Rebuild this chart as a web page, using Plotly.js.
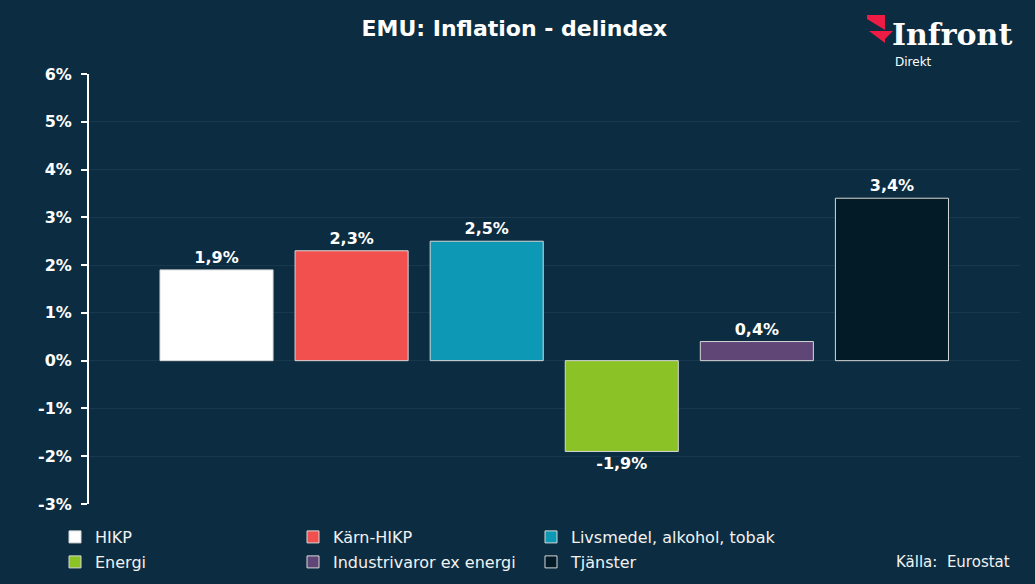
<!DOCTYPE html>
<html>
<head>
<meta charset="utf-8">
<script src="https://cdn.plot.ly/plotly-3.0.1.min.js"></script>
<style>html,body{margin:0;padding:0;background:#0c2d41;}#chart{width:1035px;height:584px;}</style>
</head>
<body>
<div id="chart"></div>
<script>
// ---- data ----
const categories = ["HIKP", "Kärn-HIKP", "Livsmedel, alkohol, tobak", "Energi", "Industrivaror ex energi", "Tjänster"];
const values = [1.9, 2.3, 2.5, -1.9, 0.4, 3.4];
const colors = ["#ffffff", "#f24f4f", "#0d98b6", "#8bc326", "#5f4677", "#021b27"];
const tickVals = [-3, -2, -1, 0, 1, 2, 3, 4, 5, 6];
const tickText = ["-3%", "-2%", "-1%", "0%", "1%", "2%", "3%", "4%", "5%", "6%"];
const legendRow = [1, 1, 1, 2, 2, 2];

const fmt = v => v.toFixed(1).replace('.', ',') + '%';

// ---- geometry helpers (pixel -> paper) ----
const ML = 89, MR = 15, MT = 74, MB = 80, W = 1035, H = 584;
const PW = W - ML - MR, PH = H - MT - MB;
const px = X => (X - ML) / PW;
const py = Y => (H - MB - Y) / PH;

const FONT = "DejaVu Sans, Verdana, sans-serif";

const traces = categories.map((c, i) => ({
  type: 'bar',
  name: c,
  x: [c],
  y: [values[i]],
  width: 0.837,
  marker: { color: colors[i], line: { color: '#d8d8d8', width: 1 } },
  text: [fmt(values[i])],
  textposition: 'outside',
  textfont: { family: FONT, size: 16, color: '#ffffff', weight: 'bold' },
  cliponaxis: false,
  hoverinfo: 'skip',
  legend: legendRow[i] === 1 ? 'legend' : 'legend2',
  legendwidth: (i % 3 === 2) ? 260 : 193
}));

const legendCommon = {
  orientation: 'h',
  xanchor: 'left',
  yanchor: 'middle',
  bgcolor: 'rgba(0,0,0,0)',
  borderwidth: 0,
  font: { family: FONT, size: 16, color: '#f2f2f2' },
  entrywidth: 193,
  entrywidthmode: 'pixels',
  itemwidth: 30,
  traceorder: 'normal'
};

function poly(pts) {
  return {
    type: 'path', xref: 'paper', yref: 'paper',
    path: 'M' + pts.map(p => px(p[0]) + ',' + py(p[1])).join('L') + 'Z',
    fillcolor: '#ee1c45', line: { width: 0 }
  };
}

const layout = {
  width: W, height: H,
  paper_bgcolor: '#0c2d41',
  plot_bgcolor: '#0c2d41',
  margin: { l: ML, r: MR, t: MT, b: MB, autoexpand: false },
  barmode: 'overlay',
  showlegend: true,
  title: {
    text: 'EMU: Inflation - delindex',
    font: { family: FONT, size: 22, color: '#ffffff', weight: 'bold' },
    x: 0.497, xanchor: 'center', y: 1 - 28 / H, yanchor: 'middle'
  },
  xaxis: {
    type: 'category',
    range: [-0.944, 5.948],
    showticklabels: false,
    showgrid: false,
    zeroline: false,
    showline: false,
    ticks: ''
  },
  yaxis: {
    range: [-3, 6],
    tickvals: tickVals,
    ticktext: tickText,
    showgrid: true,
    gridcolor: '#17384d',
    gridwidth: 1,
    zeroline: false,
    showline: true,
    linecolor: '#ffffff',
    linewidth: 2,
    ticks: 'outside',
    ticklen: 6,
    tickwidth: 2,
    tickcolor: '#ffffff',
    ticklabelstandoff: 6,
    tickfont: { family: FONT, size: 16, color: '#ffffff', weight: 'bold' }
  },
  legend: Object.assign({}, legendCommon, { x: px(55), y: py(537) }),
  legend2: Object.assign({}, legendCommon, { x: px(55), y: py(562) }),
  annotations: [
    {
      text: 'Källa:  Eurostat', xref: 'paper', yref: 'paper',
      x: px(1012), y: py(562), xanchor: 'right', yanchor: 'middle',
      showarrow: false, font: { family: FONT, size: 15, color: '#f2f2f2' }
    },
    {
      text: 'Infront', xref: 'paper', yref: 'paper',
      x: px(890), y: py(34), xanchor: 'left', yanchor: 'middle',
      showarrow: false, font: { family: 'DejaVu Serif, serif', size: 30, color: '#ffffff', weight: 'bold' }
    },
    {
      text: 'Direkt', xref: 'paper', yref: 'paper',
      x: px(893), y: py(62), xanchor: 'left', yanchor: 'middle',
      showarrow: false, font: { family: FONT, size: 12, color: '#ffffff' }
    }
  ],
  shapes: [
    poly([[867, 15], [885, 15], [885, 19], [867, 19]]),
    poly([[867, 19], [885, 19], [885, 30]]),
    poly([[869, 31], [885, 31], [885, 43]]),
    poly([[885, 31], [893, 31], [885, 39]])
  ]
};

Plotly.newPlot('chart', traces, layout, { staticPlot: true, displayModeBar: false });
</script>
</body>
</html>
